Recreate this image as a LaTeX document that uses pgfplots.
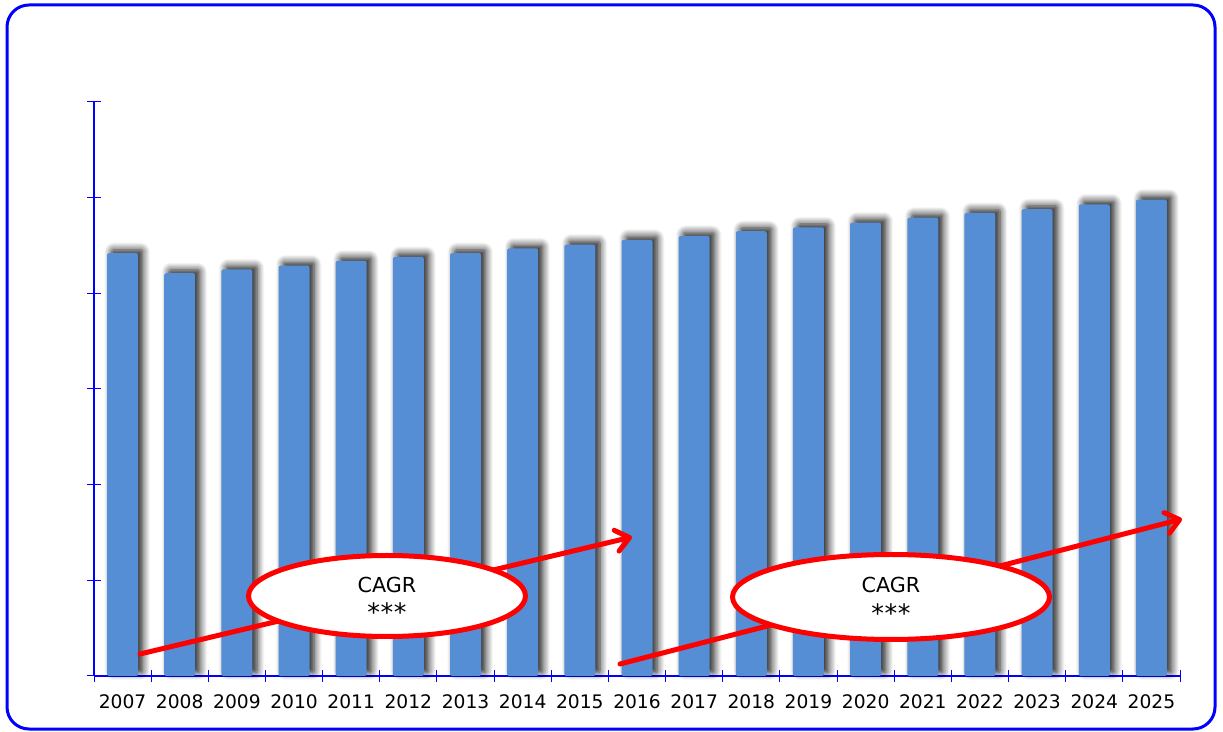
\documentclass[border=0pt]{standalone}
\usepackage{pgfplots}
\pgfplotsset{compat=1.18}
\usepackage{fontspec}
\setmainfont{DejaVu Sans}
\usetikzlibrary{shadows.blur,arrows.meta}
\definecolor{barblue}{RGB}{85,142,213}
\definecolor{axblue}{RGB}{0,0,255}
\definecolor{cagrred}{RGB}{255,0,0}
\begin{document}
\begin{tikzpicture}
\useasboundingbox (0,0) rectangle (917.25pt,548.25pt);
\begin{axis}[
  at={(70.5pt,41.25pt)}, anchor=south west,
  scale only axis, width=814.5pt, height=430.5pt,
  xmin=-0.5, xmax=18.5, ymin=0, ymax=600,
  axis x line=bottom, axis y line=left,
  axis line style={axblue, line width=1pt, -},
  ytick={0,100,...,600}, yticklabels={},
  xtick={0,...,18},
  xticklabels={2007,2008,2009,2010,2011,2012,2013,2014,2015,2016,2017,2018,2019,2020,2021,2022,2023,2024,2025},
  minor xtick={-0.5,0.5,...,18.5},
  tick align=center,
  major tick length=10.5pt, minor tick length=9pt,
  major x tick style={draw=none},
  minor x tick style={axblue, line width=0.75pt},
  y tick style={axblue, line width=0.75pt},
  xticklabel style={font=\fontsize{14}{17}\selectfont, text=black, yshift=-5pt},
  /pgf/number format/assume math mode=true,
  clip=false,
]
\addplot[ybar, bar width=23.25pt, fill=barblue, draw=none, rounded corners=1.5pt,
  blur shadow={shadow xshift=3.5pt, shadow yshift=2.5pt, shadow blur radius=5.5pt, shadow opacity=90, shadow blur steps=8}]
  coordinates {(0,442) (1,421) (2,425) (3,429) (4,434) (5,438) (6,442) (7,447) (8,451) (9,456)
  (10,460) (11,465) (12,469) (13,474) (14,479) (15,484) (16,488) (17,493) (18,498)};
\end{axis}
\begin{scope}[shift={(0,548.25pt)}, x=0.75pt, y=-0.75pt]
  \draw[axblue, line width=2.25pt, rounded corners=16.5pt] (7,5) rectangle (1215,729);
  \draw[cagrred, line width=3.75pt, line cap=round, -{Straight Barb[length=10pt,width=16pt,round]}] (140,654) -- (632,537);
  \draw[cagrred, line width=3.75pt, line cap=round, -{Straight Barb[length=10pt,width=16pt,round]}] (620,664) -- (1182,519);
  \draw[cagrred, fill=white, line width=3.75pt] (387,596) ellipse [x radius=138.5, y radius=40.5];
  \draw[cagrred, fill=white, line width=3.75pt] (891,597) ellipse [x radius=158.5, y radius=42.5];
  \node[font=\fontsize{15.5}{18}\selectfont] at (387,585) {CAGR};
  \node[font=\fontsize{19}{20}\selectfont] at (387,612) {*\kern0.5pt*\kern0.5pt*};
  \node[font=\fontsize{15.5}{18}\selectfont] at (891,585) {CAGR};
  \node[font=\fontsize{19}{20}\selectfont] at (891,613) {*\kern0.5pt*\kern0.5pt*};
\end{scope}
\end{tikzpicture}
\end{document}
